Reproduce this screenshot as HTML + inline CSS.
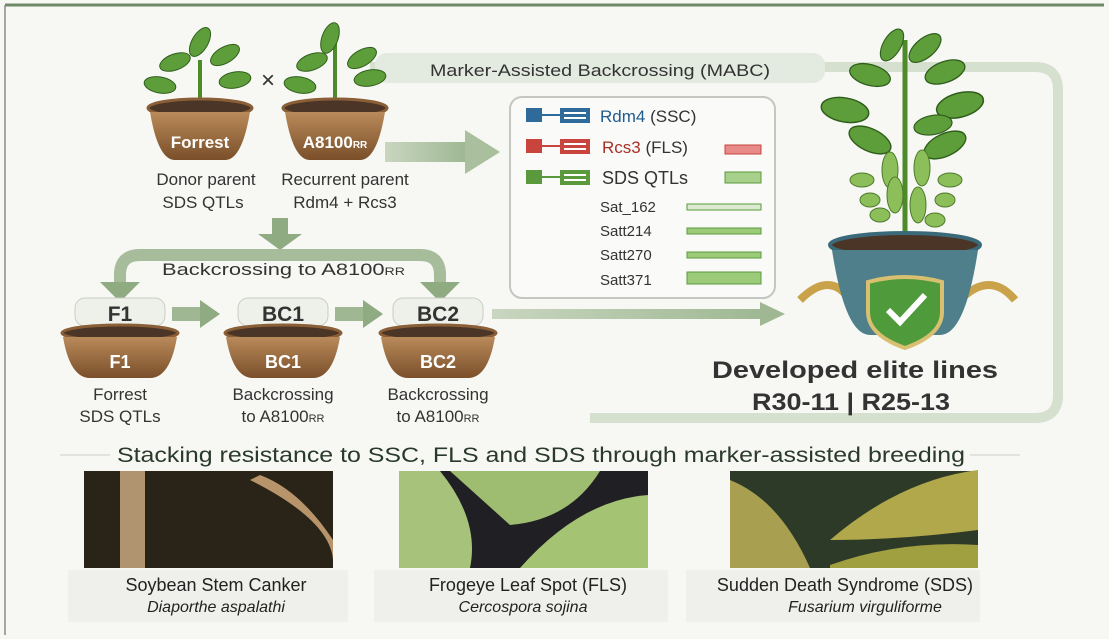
<!DOCTYPE html>
<html><head><meta charset="utf-8"><style>
html,body{margin:0;padding:0;background:#f7f7f4;}
svg{display:block;font-family:"Liberation Sans",sans-serif;}
</style></head><body>
<svg width="1109" height="639" viewBox="0 0 1109 639" xmlns="http://www.w3.org/2000/svg">
<defs>
<linearGradient id="pot" x1="0" y1="0" x2="0" y2="1"><stop offset="0" stop-color="#b98a5a"/><stop offset="1" stop-color="#7a4f2a"/></linearGradient>
<linearGradient id="arr" x1="0" y1="0" x2="1" y2="0"><stop offset="0" stop-color="#c9d6c0"/><stop offset="1" stop-color="#9fb893"/></linearGradient>
<g id="leaf"><ellipse cx="0" cy="0" rx="16" ry="8" fill="#5e9e3a" stroke="#2f5e1c" stroke-width="1"/></g>
</defs>
<rect width="1109" height="639" fill="#f7f7f4"/>
<line x1="5" y1="5" x2="1104" y2="5" stroke="#6f8a68" stroke-width="3"/>
<line x1="5" y1="5" x2="5" y2="635" stroke="#8a8a8a" stroke-width="1.5"/>
<path d="M370 67 H1035 Q1058 67 1058 90 V395 Q1058 418 1035 418 H590" fill="none" stroke="#d5e0cf" stroke-width="10"/>
<rect x="375" y="53" width="450" height="30" rx="12" fill="#e3eadf"/>
<text x="430" y="76" font-size="17" fill="#333" textLength="340" lengthAdjust="spacingAndGlyphs">Marker-Assisted Backcrossing (MABC)</text>
<g>
<path d="M200 105 V60" stroke="#4d8a2a" stroke-width="4"/>
<use href="#leaf" transform="translate(175,62) rotate(-20)"/><use href="#leaf" transform="translate(225,55) rotate(-30)"/>
<use href="#leaf" transform="translate(160,85) rotate(10)"/><use href="#leaf" transform="translate(235,80) rotate(-10)"/>
<use href="#leaf" transform="translate(200,42) rotate(-60)"/>
<ellipse cx="200" cy="108" rx="52" ry="9" fill="#4a3526" stroke="#8a5e36" stroke-width="3"/>
<path d="M150 112 Q158 160 175 160 H225 Q242 160 250 112 Z" fill="url(#pot)"/>
<text x="200" y="148" font-size="17" font-weight="bold" fill="#fff" text-anchor="middle">Forrest</text>
</g>
<g>
<path d="M335 105 V40" stroke="#4d8a2a" stroke-width="4"/>
<use href="#leaf" transform="translate(312,62) rotate(-20)"/><use href="#leaf" transform="translate(362,58) rotate(-30)"/>
<use href="#leaf" transform="translate(300,85) rotate(10)"/><use href="#leaf" transform="translate(370,78) rotate(-10)"/>
<use href="#leaf" transform="translate(330,38) rotate(-70)"/>
<ellipse cx="335" cy="108" rx="52" ry="9" fill="#4a3526" stroke="#8a5e36" stroke-width="3"/>
<path d="M285 112 Q293 160 310 160 H360 Q377 160 385 112 Z" fill="url(#pot)"/>
<text x="335" y="148" font-size="17" font-weight="bold" fill="#fff" text-anchor="middle">A8100<tspan font-size="10">RR</tspan></text>
</g>
<text x="268" y="88" font-size="24" fill="#333" text-anchor="middle">×</text>
<g font-size="17" fill="#333" text-anchor="middle">
<text x="206" y="185">Donor parent</text>
<text x="203" y="208">SDS QTLs</text>
<text x="345" y="185">Recurrent parent</text>
<text x="345" y="208">Rdm4 + Rcs3</text>
</g>
<rect x="385" y="142" width="80" height="20" fill="url(#arr)"/>
<polygon points="465,130 500,152 465,174" fill="#a9bf9e"/>
<rect x="272" y="218" width="16" height="18" fill="#8fab82"/>
<polygon points="258,234 302,234 280,250" fill="#8fab82"/>
<path d="M120 285 V275 Q120 255 140 255 H420 Q440 255 440 275 V285" fill="none" stroke="#a6bc9a" stroke-width="12"/>
<polygon points="100,282 140,282 120,302" fill="#8fab82"/>
<polygon points="420,282 460,282 440,302" fill="#8fab82"/>
<text x="162" y="275" font-size="17" fill="#333" textLength="243" lengthAdjust="spacingAndGlyphs">Backcrossing to A8100<tspan font-size="11">RR</tspan></text>
<g id="g1">
<rect x="75" y="298" width="90" height="28" rx="10" fill="#eef0ea" stroke="#c9cdc2"/>
<ellipse cx="120" cy="333" rx="58" ry="8" fill="#4a3526" stroke="#8a5e36" stroke-width="3"/>
<path d="M63 337 Q70 378 90 378 H150 Q170 378 177 337 Z" fill="url(#pot)"/>
</g>
<text x="120" y="321" font-size="21" font-weight="bold" fill="#333" text-anchor="middle">F1</text>
<text x="120" y="368" font-size="18" font-weight="bold" fill="#fff" text-anchor="middle">F1</text>
<g transform="translate(163,0)"><use href="#g1"/></g>
<text x="283" y="321" font-size="21" font-weight="bold" fill="#333" text-anchor="middle">BC1</text>
<text x="283" y="368" font-size="18" font-weight="bold" fill="#fff" text-anchor="middle">BC1</text>
<g transform="translate(318,0)"><use href="#g1"/></g>
<text x="438" y="321" font-size="21" font-weight="bold" fill="#333" text-anchor="middle">BC2</text>
<text x="438" y="368" font-size="18" font-weight="bold" fill="#fff" text-anchor="middle">BC2</text>
<rect x="172" y="307" width="30" height="14" fill="#9fb893"/><polygon points="200,300 220,314 200,328" fill="#8fab82"/>
<rect x="335" y="307" width="30" height="14" fill="#9fb893"/><polygon points="363,300 383,314 363,328" fill="#8fab82"/>
<rect x="492" y="309" width="270" height="10" fill="url(#arr)"/><polygon points="760,302 785,314 760,326" fill="#9fb893"/>
<g font-size="17" fill="#333" text-anchor="middle">
<text x="120" y="400">Forrest</text><text x="120" y="422">SDS QTLs</text>
<text x="283" y="400">Backcrossing</text><text x="283" y="422">to A8100<tspan font-size="11">RR</tspan></text>
<text x="438" y="400">Backcrossing</text><text x="438" y="422">to A8100<tspan font-size="11">RR</tspan></text>
</g>
<rect x="510" y="97" width="265" height="201" rx="12" fill="#fafaf8" stroke="#c3c7bf" stroke-width="2"/>
<g>
<rect x="526" y="108" width="16" height="14" fill="#2e6a9a"/><line x1="542" y1="115" x2="560" y2="115" stroke="#2e6a9a" stroke-width="2"/>
<rect x="560" y="108" width="30" height="15" fill="#2e6a9a"/><rect x="564" y="112" width="22" height="2" fill="#fff"/><rect x="564" y="117" width="22" height="2" fill="#fff"/>
<text x="600" y="122" font-size="17" fill="#1f5b8c">Rdm4 <tspan fill="#333">(SSC)</tspan></text>
<rect x="526" y="139" width="16" height="14" fill="#c8443c"/><line x1="542" y1="146" x2="560" y2="146" stroke="#c8443c" stroke-width="2"/>
<rect x="560" y="139" width="30" height="15" fill="#c8443c"/><rect x="564" y="143" width="22" height="2" fill="#fff"/><rect x="564" y="148" width="22" height="2" fill="#fff"/>
<text x="602" y="153" font-size="17" fill="#a83028">Rcs3 <tspan fill="#333">(FLS)</tspan></text>
<rect x="725" y="145" width="36" height="9" fill="#e88a8a" stroke="#c8443c"/>
<rect x="526" y="170" width="16" height="14" fill="#5a9a3c"/><line x1="542" y1="177" x2="560" y2="177" stroke="#5a9a3c" stroke-width="2"/>
<rect x="560" y="170" width="30" height="15" fill="#5a9a3c"/><rect x="564" y="174" width="22" height="2" fill="#fff"/><rect x="564" y="179" width="22" height="2" fill="#fff"/>
<text x="602" y="184" font-size="18" fill="#333">SDS QTLs</text>
<rect x="725" y="172" width="36" height="11" fill="#a7d08a" stroke="#5a9a3c"/>
<g font-size="15" fill="#333">
<text x="600" y="212">Sat_162</text><text x="600" y="236">Satt214</text><text x="600" y="260">Satt270</text><text x="600" y="285">Satt371</text></g>
<rect x="687" y="204" width="74" height="6" fill="#dcebd0" stroke="#5a9a3c"/>
<rect x="687" y="228" width="74" height="6" fill="#9ccc7a" stroke="#5a9a3c"/>
<rect x="687" y="252" width="74" height="6" fill="#9ccc7a" stroke="#5a9a3c"/>
<rect x="687" y="272" width="74" height="12" fill="#9ccc7a" stroke="#5a9a3c"/>
</g>
<g>
<path d="M905 240 V40" stroke="#4d8a2a" stroke-width="5"/>
<use href="#leaf" transform="translate(892,45) rotate(-60) scale(1.1)"/><use href="#leaf" transform="translate(925,48) rotate(-40) scale(1.2)"/>
<use href="#leaf" transform="translate(870,75) rotate(15) scale(1.3)"/><use href="#leaf" transform="translate(945,72) rotate(-20) scale(1.3)"/>
<use href="#leaf" transform="translate(845,110) rotate(10) scale(1.5)"/><use href="#leaf" transform="translate(960,105) rotate(-15) scale(1.5)"/>
<use href="#leaf" transform="translate(870,140) rotate(25) scale(1.4)"/><use href="#leaf" transform="translate(945,145) rotate(-25) scale(1.4)"/>
<use href="#leaf" transform="translate(933,125) rotate(-10) scale(1.2)"/>
<g fill="#8cbf5a" stroke="#4d7a2a">
<ellipse cx="890" cy="170" rx="8" ry="18"/><ellipse cx="922" cy="168" rx="8" ry="18"/><ellipse cx="870" cy="200" rx="10" ry="7"/><ellipse cx="945" cy="200" rx="10" ry="7"/><ellipse cx="880" cy="215" rx="10" ry="7"/><ellipse cx="935" cy="220" rx="10" ry="7"/><ellipse cx="895" cy="195" rx="8" ry="18"/><ellipse cx="918" cy="205" rx="8" ry="18"/><ellipse cx="950" cy="180" rx="12" ry="7"/><ellipse cx="862" cy="180" rx="12" ry="7"/></g>
<path d="M800 300 Q830 270 850 300 M960 300 Q990 270 1015 300" stroke="#c9a24a" stroke-width="8" fill="none"/>
<ellipse cx="905" cy="245" rx="75" ry="12" fill="#4a3526" stroke="#3a6a7a" stroke-width="4"/>
<path d="M832 250 Q845 335 870 335 H940 Q965 335 978 250 Z" fill="#4e7f8a"/>
<path d="M868 282 Q905 272 942 282 V312 Q942 335 905 348 Q868 335 868 312 Z" fill="#4f9a3a" stroke="#d8c070" stroke-width="4"/>
<path d="M888 310 L900 322 L925 295" stroke="#fff" stroke-width="6" fill="none"/>
</g>
<text x="712" y="378" font-size="24" font-weight="bold" fill="#333" textLength="286" lengthAdjust="spacingAndGlyphs">Developed elite lines</text>
<text x="752" y="410" font-size="24" font-weight="bold" fill="#333" textLength="198" lengthAdjust="spacingAndGlyphs">R30-11 | R25-13</text>
<line x1="60" y1="455" x2="110" y2="455" stroke="#ccc"/><line x1="970" y1="455" x2="1020" y2="455" stroke="#ccc"/>
<text x="117" y="462" font-size="21" fill="#2a3a2a" textLength="848" lengthAdjust="spacingAndGlyphs">Stacking resistance to SSC, FLS and SDS through marker-assisted breeding</text>
<rect x="84" y="471" width="249" height="97" fill="#2a2418"/>
<rect x="120" y="471" width="25" height="97" fill="#b09470"/><path d="M250 480 Q330 520 333 560 L333 540 Q300 490 260 475Z" fill="#b8946a"/>
<rect x="399" y="471" width="249" height="97" fill="#1f1f24"/>
<path d="M399 471 H440 Q480 520 470 568 H399Z" fill="#a7c27a"/><path d="M450 471 H600 Q570 520 510 525Z" fill="#9ebd70"/><path d="M520 568 Q580 500 648 495 V568Z" fill="#a4c474"/>
<rect x="730" y="471" width="248" height="97" fill="#2e3a28"/>
<path d="M730 480 Q780 500 810 568 H730Z" fill="#a8a050"/><path d="M830 540 Q900 480 978 470 V530 Q900 540 830 540Z" fill="#b0a84a"/><path d="M830 565 Q900 540 978 545 V568 H830Z" fill="#a0a040"/>
<rect x="68" y="570" width="280" height="52" fill="#efefeb"/>
<rect x="374" y="570" width="294" height="52" fill="#efefeb"/>
<rect x="686" y="570" width="294" height="52" fill="#efefeb"/>
<g fill="#222" text-anchor="middle">
<text x="216" y="591" font-size="18">Soybean Stem Canker</text><text x="216" y="612" font-style="italic" font-size="16">Diaporthe aspalathi</text>
<text x="528" y="591" font-size="18">Frogeye Leaf Spot (FLS)</text><text x="523" y="612" font-style="italic" font-size="16">Cercospora sojina</text>
<text x="845" y="591" font-size="18">Sudden Death Syndrome (SDS)</text><text x="865" y="612" font-style="italic" font-size="16">Fusarium virguliforme</text>
</g>
</svg>
</body></html>
